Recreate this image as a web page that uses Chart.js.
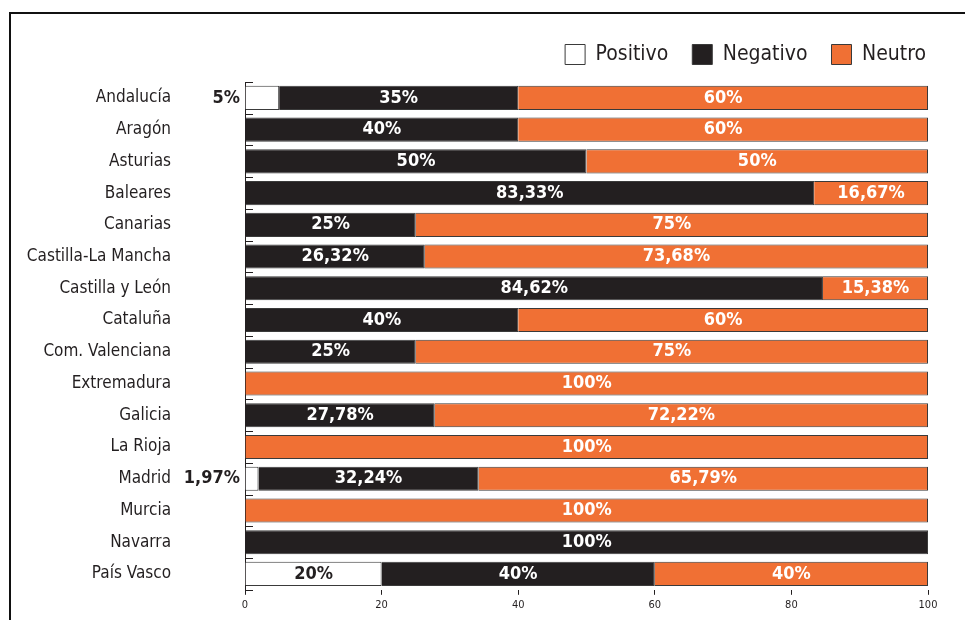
<!DOCTYPE html>
<html>
<head>
<meta charset="utf-8">
<script src="https://cdn.jsdelivr.net/npm/chart.js@4"></script>
<style>
  html, body { margin: 0; padding: 0; background: #fff; }
  #wrap { position: relative; width: 965px; height: 620px; overflow: hidden; }
  #frame { position: absolute; left: 9px; top: 12px; width: 1000px; height: 700px;
           border-left: 2px solid #111; border-top: 2px solid #111; }
  canvas { position: absolute; left: 0; top: 0; }
</style>
</head>
<body>
<div id="wrap">
  <div id="frame"></div>
  <canvas id="sentChart" width="965" height="620"></canvas>
</div>
<script>
// Regions and sentiment shares (%)
const regions = ['Andalucía','Aragón','Asturias','Baleares','Canarias','Castilla-La Mancha','Castilla y León',
  'Cataluña','Com. Valenciana','Extremadura','Galicia','La Rioja','Madrid','Murcia','Navarra','País Vasco'];
const positivo = [5, null, null, null, null, null, null, null, null, null, null, null, 1.97, null, null, 20];
const negativo = [35, 40, 50, 83.33, 25, 26.32, 84.62, 40, 25, null, 27.78, null, 32.24, null, 100, 40];
const neutro   = [60, 60, 50, 16.67, 75, 73.68, 15.38, 60, 75, 100, 72.22, 100, 65.79, 100, null, 40];
const xTicks = [0, 20, 40, 60, 80, 100];

const FONT = '"Liberation Sans Narrow", "DejaVu Sans Condensed", sans-serif';
const INK = '#231f20';

function fmt(v) {
  return String(Math.round(v * 100) / 100).replace('.', ',') + '%';
}

// value labels on each segment
const barLabels = {
  id: 'barLabels',
  afterDatasetsDraw(chart) {
    const ctx = chart.ctx;
    ctx.save();
    ctx.font = 'bold 18px ' + FONT;
    ctx.textBaseline = 'middle';
    chart.data.datasets.forEach((ds, di) => {
      chart.getDatasetMeta(di).data.forEach((bar, i) => {
        const v = ds.data[i];
        if (v == null) return;
        if (v < 10) {
          ctx.fillStyle = INK;
          ctx.textAlign = 'right';
          ctx.fillText(fmt(v), chart.chartArea.left - 5, bar.y);
        } else {
          ctx.fillStyle = di === 0 ? INK : '#fff';
          ctx.textAlign = 'center';
          ctx.fillText(fmt(v), (bar.x + bar.base) / 2, bar.y);
        }
      });
    });
    ctx.restore();
  }
};

// short marks on the inner side of the category axis
const catMarks = {
  id: 'catMarks',
  afterDatasetsDraw(chart) {
    const ctx = chart.ctx, y = chart.scales.y, left = chart.chartArea.left;
    ctx.save();
    ctx.strokeStyle = INK;
    ctx.lineWidth = 1;
    for (let i = 0; i <= regions.length; i++) {
      const py = Math.round(y.getPixelForValue(i - 0.5)) + 0.5;
      ctx.beginPath();
      ctx.moveTo(left, py);
      ctx.lineTo(left + 8, py);
      ctx.stroke();
    }
    ctx.restore();
  }
};

// nudge the legend to the right edge and up, as in the source
const legendShift = {
  id: 'legendShift',
  afterLayout(chart) {
    const lg = chart.legend;
    lg.left += 22; lg.right += 22;
    lg.top -= 7; lg.bottom -= 7;
  }
};

new Chart(document.getElementById('sentChart').getContext('2d'), {
  type: 'bar',
  data: {
    labels: regions,
    datasets: [
      { label: 'Positivo', data: positivo, backgroundColor: '#ffffff', borderColor: '#3a3a3a', borderWidth: 1 },
      { label: 'Negativo', data: negativo, backgroundColor: INK, borderColor: '#3a3a3a', borderWidth: 1 },
      { label: 'Neutro', data: neutro, backgroundColor: '#f07034', borderColor: '#3a3a3a', borderWidth: 1 }
    ]
  },
  options: {
    indexAxis: 'y',
    responsive: false,
    animation: false,
    layout: { padding: { left: 0, right: 37, top: 27, bottom: 4 } },
    datasets: { bar: { categoryPercentage: 0.76, barPercentage: 1 } },
    plugins: {
      tooltip: { enabled: false },
      legend: {
        align: 'end',
        labels: {
          color: INK,
          font: { family: FONT, size: 21 },
          boxWidth: 20, boxHeight: 20, padding: 24
        }
      }
    },
    scales: {
      x: {
        stacked: true, min: 0, max: 100,
        afterBuildTicks: s => { s.ticks = xTicks.map(v => ({ value: v })); },
        grid: { drawOnChartArea: false, drawTicks: true, tickLength: 5, color: INK },
        border: { display: false },
        ticks: { color: INK, font: { family: FONT, size: 11 }, padding: 4 }
      },
      y: {
        stacked: true,
        afterFit: s => { s.width = 245; s.paddingTop = 0; s.paddingBottom = 0; },
        grid: { display: false },
        border: { display: true, color: INK, width: 1 },
        ticks: { color: INK, font: { family: FONT, size: 17 }, padding: 66 }
      }
    }
  },
  plugins: [barLabels, catMarks, legendShift]
});
</script>
</body>
</html>
